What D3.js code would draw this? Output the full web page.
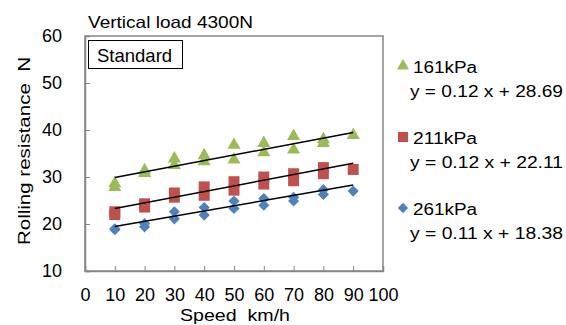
<!DOCTYPE html>
<html>
<head>
<meta charset="utf-8">
<script src="https://cdn.jsdelivr.net/npm/d3@7"></script>
<style>
  body { margin: 0; background: #fff; }
  text { font-family: "Liberation Sans", Arial, sans-serif; fill: #000; white-space: pre; }
</style>
</head>
<body>
<svg id="chart"></svg>
<script>
// speeds of each measured point (two runs per speed, one at 90)
const speeds = [10, 10, 20, 20, 30, 30, 40, 40, 50, 50, 60, 60, 70, 70, 80, 80, 90];
const kpa161 = [28.6, 27.8, 31.4, 30.8, 33.9, 32.5, 34.6, 33.3, 36.8, 33.7, 37.2, 35.2, 38.7, 35.8, 38.0, 37.2, 38.9];
const kpa211 = [22.6, 22.0, 24.3, 23.6, 26.6, 25.7, 27.9, 26.1, 29.0, 27.2, 30.0, 28.5, 30.7, 29.2, 32.0, 30.7, 31.6];
const kpa261 = [19.0, 18.8, 20.1, 19.4, 22.6, 21.1, 23.5, 21.9, 24.9, 23.3, 25.4, 24.0, 25.7, 24.9, 27.3, 26.3, 27.0];

const seriesNames = ["161kPa", "211kPa", "261kPa"];
const slopes = [0.12, 0.12, 0.11];
const intercepts = [28.69, 22.11, 18.38];
const trendRange = [10, 90];

const xTicks = [0, 10, 20, 30, 40, 50, 60, 70, 80, 90, 100];
const yTicks = [10, 20, 30, 40, 50, 60];

const W = 566, H = 325;
const svg = d3.select("#chart").attr("width", W).attr("height", H);

const x = d3.scaleLinear().domain([0, 100]).range([85, 383]);
const y = d3.scaleLinear().domain([10, 60]).range([271, 36]);

const colors = ["#9BBB59", "#C0504D", "#4F81BD"];
// triangle, square, diamond (square turned 45 degrees)
const symbols = [d3.symbolTriangle, d3.symbolSquare, d3.symbolSquare];
const symRotate = [0, 0, 45];
const symSizes = [74, 120, 62];
const values = [kpa161, kpa211, kpa261];

// plot frame
svg.append("rect")
    .attr("x", x(0)).attr("y", y(60))
    .attr("width", x(100) - x(0)).attr("height", y(10) - y(60))
    .attr("fill", "none").attr("stroke", "#868686").attr("stroke-width", 1.5);

// axes, ticks inside
const xAxis = svg.append("g")
    .attr("transform", `translate(0,${y(10)})`)
    .call(d3.axisBottom(x).tickValues(xTicks).tickSize(-5).tickPadding(17));
const yAxis = svg.append("g")
    .attr("transform", `translate(${x(0)},0)`)
    .call(d3.axisLeft(y).tickValues(yTicks).tickSize(-5).tickPadding(23));
[xAxis, yAxis].forEach(g => {
    g.select(".domain").attr("stroke", "#868686").attr("stroke-width", 1.5);
    g.selectAll(".tick line").attr("stroke", "#868686").attr("stroke-width", 1);
    g.selectAll(".tick text").style("font-size", "18px").attr("fill", "#000");
});
xAxis.selectAll(".tick line").filter(d => d === 0 || d === 100).remove();
yAxis.selectAll(".tick line").filter(d => d === 10 || d === 60).remove();

// points
values.forEach((vals, i) => {
    svg.append("g").selectAll("path")
        .data(vals)
        .enter()
        .append("path")
        .attr("transform", (d, j) => `translate(${x(speeds[j])},${y(d)}) rotate(${symRotate[i]})`)
        .attr("d", d3.symbol().type(symbols[i]).size(symSizes[i]))
        .attr("fill", colors[i]);
});

// trend lines
const line = d3.line().x(d => x(d[0])).y(d => y(d[1]));
slopes.forEach((s, i) => {
    svg.append("path")
        .attr("d", line(trendRange.map(v => [v, s * v + intercepts[i]])))
        .attr("fill", "none").attr("stroke", "#000").attr("stroke-width", 1.5);
});

// title
svg.append("text").attr("x", 88).attr("y", 28)
    .style("font-size", "16.5px")
    .attr("textLength", 165).attr("lengthAdjust", "spacingAndGlyphs")
    .text("Vertical load 4300N");

// "Standard" box
svg.append("rect").attr("x", 88.5).attr("y", 40.5).attr("width", 94).attr("height", 28)
    .attr("fill", "#fff").attr("stroke", "#000").attr("stroke-width", 1);
svg.append("text").attr("x", 97).attr("y", 62)
    .style("font-size", "18.5px")
    .text("Standard");

// axis titles
svg.append("text")
    .attr("transform", "translate(30,151) rotate(-90)")
    .attr("text-anchor", "middle")
    .style("font-size", "16px")
    .attr("textLength", 188).attr("lengthAdjust", "spacingAndGlyphs")
    .text("Rolling resistance  N");
svg.append("text")
    .attr("x", 180).attr("y", 321)
    .style("font-size", "17px")
    .attr("textLength", 110).attr("lengthAdjust", "spacingAndGlyphs")
    .text("Speed  km/h");

// legend
const legendTop = [66, 137, 208];
seriesNames.forEach((name, i) => {
    const ly = legendTop[i];
    svg.append("path")
        .attr("transform", `translate(403,${ly}) rotate(${symRotate[i]})`)
        .attr("d", d3.symbol().type(symbols[i]).size(symSizes[i] * 0.85))
        .attr("fill", colors[i]);
    svg.append("text").attr("x", 413).attr("y", ly + 7)
        .style("font-size", "16px")
        .attr("textLength", 64).attr("lengthAdjust", "spacingAndGlyphs")
        .text(name);
    svg.append("text").attr("x", 410).attr("y", ly + 31)
        .style("font-size", "16px")
        .attr("textLength", 153).attr("lengthAdjust", "spacingAndGlyphs")
        .text(`y = ${slopes[i].toFixed(2)} x + ${intercepts[i].toFixed(2)}`);
});
</script>
</body>
</html>
